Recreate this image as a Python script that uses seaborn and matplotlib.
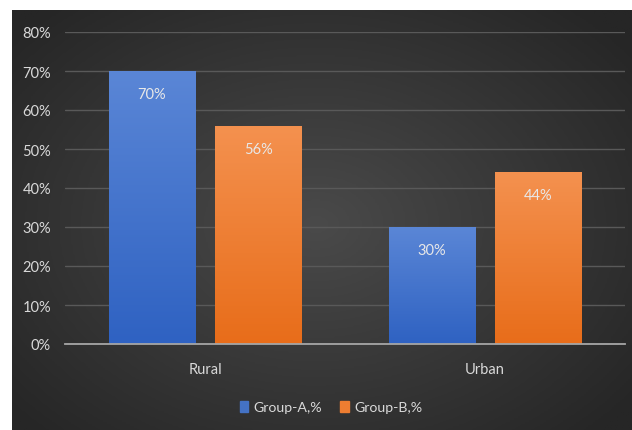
import numpy as np
import pandas as pd
import matplotlib
matplotlib.use("Agg")
import matplotlib.pyplot as plt
import seaborn as sns
from matplotlib.colors import LinearSegmentedColormap, to_hex
from matplotlib.patches import Patch, Rectangle

categories = ["Rural", "Urban"]
groups = ["Group-A,%", "Group-B,%"]
group_a = [70, 30]
group_b = [56, 44]
y_ticks = [0, 10, 20, 30, 40, 50, 60, 70, 80]

df = pd.DataFrame({
    "area": categories * 2,
    "group": [groups[0]] * 2 + [groups[1]] * 2,
    "value": group_a + group_b,
})

sns.set_theme(style="white")
plt.rcParams["font.family"] = ["Lato", "DejaVu Sans"]

W, H = 632, 431
fig = plt.figure(figsize=(W / 100, H / 100), dpi=100, facecolor="white")

# dark radial background panel (slightly oversized to avoid edge gaps)
fig.patches.append(Rectangle((12 / W, 0), 1, (H - 11) / H, transform=fig.transFigure,
                             facecolor="#2c2c2c", edgecolor="none", zorder=-10))
bg = fig.add_axes([12 / W, -0.02, (W - 12) / W + 0.02, (H - 11) / H + 0.02])
yy, xx = np.mgrid[0:1:200j, 0:1:300j]
r = np.sqrt(((xx - 0.48) / 0.75) ** 2 + ((yy - 0.5) / 0.8) ** 2)
bgcmap = LinearSegmentedColormap.from_list("bg", ["#4a4a4a", "#383838", "#262626"])
bg.imshow(r, cmap=bgcmap, aspect="auto", extent=[0, 1, 0, 1], vmin=0, vmax=0.85)
bg.set_xlim(0, 1)
bg.set_ylim(0, 1)
bg.set_axis_off()

ax = fig.add_axes([65 / W, 86 / H, (625 - 65) / W, (345 - 33) / H])
ax.patch.set_alpha(0)
palette = {groups[0]: "#4472C4", groups[1]: "#ED7D31"}
sns.barplot(data=df, x="area", y="value", hue="group", palette=palette,
            width=0.76, gap=0.19, ax=ax, legend=False, saturation=1,
            zorder=3, linewidth=0)

ax.set_xlim(-0.5, 1.5)
ax.set_ylim(0, 80)
ax.set_yticks(y_ticks)
ax.set_yticklabels([f"{t}%" for t in y_ticks])
ax.grid(axis="y", color="#595959", linewidth=1, zorder=0)
ax.grid(axis="x", visible=False)
for s in ["top", "right", "left"]:
    ax.spines[s].set_visible(False)
ax.spines["bottom"].set_color("#a6a6a6")
ax.spines["bottom"].set_linewidth(1.3)
ax.spines["bottom"].set_zorder(5)
ax.tick_params(axis="both", length=0, colors="#d9d9d9", labelsize=10.5)
ax.tick_params(axis="y", pad=10)
ax.tick_params(axis="x", pad=13)
ax.set_xlabel("")
ax.set_ylabel("")

grads = {
    "#4472C4": ["#5a86d6", "#2f62c2"],
    "#ED7D31": ["#f4914f", "#e86d1a"],
}
for p in ax.patches:
    h = p.get_height()
    if h <= 0:
        continue
    col = to_hex(p.get_facecolor()).upper()
    key = "#4472C4" if col == "#4472C4" else "#ED7D31"
    cm = LinearSegmentedColormap.from_list("g", grads[key][::-1])
    x0 = p.get_x()
    w = p.get_width()
    grad = np.linspace(0, 1, 100).reshape(-1, 1)
    im = ax.imshow(grad, cmap=cm, origin="lower", aspect="auto",
                   extent=[x0, x0 + w, 0, h], zorder=4)
    im.set_clip_path(p)
    ax.annotate(f"{h:.0f}%", (x0 + w / 2, h), xytext=(0, -23),
                textcoords="offset pixels",
                ha="center", va="center", color="#e8e8e8", fontsize=10.5, zorder=6)

ax.set_xlim(-0.5, 1.5)
ax.set_ylim(0, 80)

handles = [Patch(color=palette[g]) for g in groups]
fig.legend(handles, groups, loc="center", bbox_to_anchor=(331 / W, (431 - 408) / H),
           ncol=2, frameon=False, handlelength=0.6, handleheight=0.9,
           handletextpad=0.35, columnspacing=1.3, fontsize=10.2,
           labelcolor="#d9d9d9")

fig.savefig("out.png", dpi=100, facecolor="white")
